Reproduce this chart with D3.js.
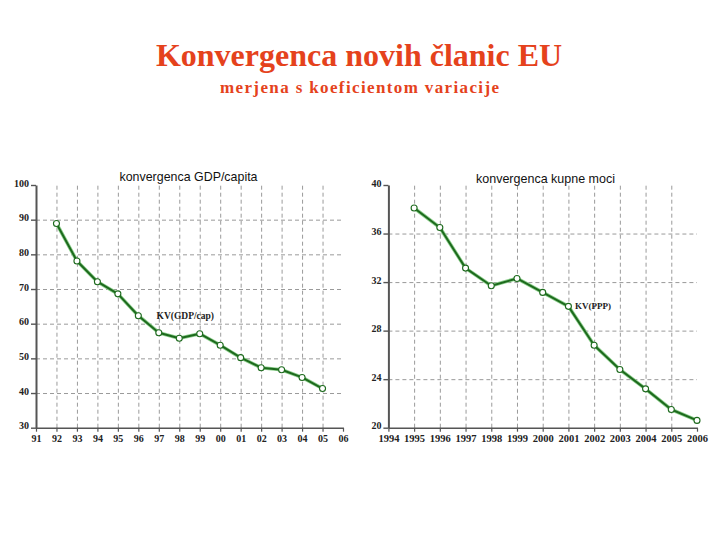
<!DOCTYPE html>
<html>
<head>
<meta charset="utf-8">
<script src="https://cdn.jsdelivr.net/npm/d3@7"></script>
<style>
  html, body { margin: 0; padding: 0; background: #ffffff; }
  svg { display: block; }
</style>
</head>
<body>
<svg id="chart" width="720" height="540"></svg>
<script>
// ---------- data ----------
const mainTitle = "Konvergenca novih članic EU";
const subTitle = "merjena s koeficientom variacije";

const gdpTitle = "konvergenca GDP/capita";
const gdpLabel = "KV(GDP/cap)";
const gdpYears = [1992, 1993, 1994, 1995, 1996, 1997, 1998, 1999, 2000, 2001, 2002, 2003, 2004, 2005];
const gdpValues = [88.9, 78.1, 72.1, 68.6, 62.3, 57.4, 55.8, 57.1, 53.8, 50.2, 47.3, 46.7, 44.5, 41.3];
const gdpXTicks = [1991, 1992, 1993, 1994, 1995, 1996, 1997, 1998, 1999, 2000, 2001, 2002, 2003, 2004, 2005, 2006];
const gdpYTicks = [30, 40, 50, 60, 70, 80, 90, 100];

const pppTitle = "konvergenca kupne moci";
const pppLabel = "KV(PPP)";
const pppYears = [1995, 1996, 1997, 1998, 1999, 2000, 2001, 2002, 2003, 2004, 2005, 2006];
const pppValues = [38.1, 36.5, 33.15, 31.7, 32.3, 31.15, 30.0, 26.8, 24.8, 23.2, 21.5, 20.6];
const pppXTicks = [1994, 1995, 1996, 1997, 1998, 1999, 2000, 2001, 2002, 2003, 2004, 2005, 2006];
const pppYTicks = [20, 24, 28, 32, 36, 40];

// ---------- drawing ----------
const svg = d3.select("#chart");
const red = "#e5421c";
const serif = "'Liberation Serif', 'Times New Roman', serif";
const sans = "'Liberation Sans', Arial, sans-serif";

svg.append("text")
  .attr("x", 359).attr("y", 66)
  .attr("text-anchor", "middle")
  .attr("font-family", serif).attr("font-weight", "bold")
  .attr("font-size", 32).attr("fill", red)
  .text(mainTitle);

svg.append("text")
  .attr("x", 359.5).attr("y", 93)
  .attr("text-anchor", "middle")
  .attr("font-family", serif).attr("font-weight", "bold")
  .attr("font-size", 17).attr("fill", red)
  .attr("textLength", 279).attr("lengthAdjust", "spacing")
  .text(subTitle);

function drawPanel(cfg) {
  const g = svg.append("g");
  const x = d3.scaleLinear().domain(cfg.xDomain).range([cfg.left, cfg.right]);
  const y = d3.scaleLinear().domain(cfg.yDomain).range([cfg.bottom, cfg.top]);

  // vertical grid (data years + none at axis / last)
  const vGridTicks = cfg.xTicks.slice(1, -1);
  g.append("g")
    .attr("transform", `translate(0,${cfg.bottom})`)
    .call(d3.axisBottom(x).tickValues(vGridTicks).tickSize(-(cfg.bottom - cfg.top)).tickFormat(""))
    .call(a => a.select(".domain").remove())
    .call(a => a.selectAll(".tick line")
      .attr("stroke", "#9a9a9a").attr("stroke-width", 1).attr("stroke-dasharray", "4,3"));

  // horizontal grid
  const hGridTicks = cfg.yTicks.slice(1, -1);
  g.append("g")
    .attr("transform", `translate(${cfg.left},0)`)
    .call(d3.axisLeft(y).tickValues(hGridTicks).tickSize(-(cfg.right - cfg.left)).tickFormat(""))
    .call(a => a.select(".domain").remove())
    .call(a => a.selectAll(".tick line")
      .attr("stroke", "#9a9a9a").attr("stroke-width", 1).attr("stroke-dasharray", "4,3"));

  // x axis
  const xAxis = g.append("g")
    .attr("transform", `translate(0,${cfg.bottom})`)
    .call(d3.axisBottom(x).tickValues(cfg.xTicks).tickSize(4).tickSizeOuter(0).tickPadding(3).tickFormat(cfg.xFormat));
  xAxis.select(".domain").attr("stroke", "#555").attr("stroke-width", 1.6);
  xAxis.selectAll(".tick line").attr("stroke", "#555").attr("stroke-width", 1.2);
  xAxis.selectAll(".tick text")
    .attr("font-family", serif).attr("font-weight", "bold")
    .attr("font-size", cfg.xFont).attr("fill", "#222");

  // y axis
  const yAxis = g.append("g")
    .attr("transform", `translate(${cfg.left},0)`)
    .call(d3.axisLeft(y).tickValues(cfg.yTicks).tickSize(5).tickSizeOuter(0).tickPadding(2).tickFormat(d3.format("d")));
  yAxis.select(".domain").attr("stroke", "#555").attr("stroke-width", 2);
  yAxis.selectAll(".tick line").attr("stroke", "#555").attr("stroke-width", 1.4);
  yAxis.selectAll(".tick text")
    .attr("font-family", serif).attr("font-weight", "bold")
    .attr("font-size", 10).attr("fill", "#222").attr("dy", "0.1em");

  // line
  const line = d3.line().x((d, i) => x(cfg.years[i])).y(d => y(d)).curve(d3.curveLinear);
  g.append("path").datum(cfg.values)
    .attr("d", line).attr("fill", "none")
    .attr("stroke", "#8fd08f").attr("stroke-width", 3.6).attr("stroke-linejoin", "round");
  g.append("path").datum(cfg.values)
    .attr("d", line).attr("fill", "none")
    .attr("stroke", "#1d6a1d").attr("stroke-width", 2).attr("stroke-linejoin", "round");

  g.selectAll("circle.pt").data(cfg.values).enter().append("circle")
    .attr("class", "pt")
    .attr("cx", (d, i) => x(cfg.years[i])).attr("cy", d => y(d))
    .attr("r", 3).attr("fill", "#ffffff")
    .attr("stroke", "#1d6a1d").attr("stroke-width", 1.1);

  // panel title
  svg.append("text")
    .attr("x", cfg.titleX).attr("y", cfg.titleY)
    .attr("font-family", sans).attr("font-size", 13.5).attr("fill", "#111")
    .attr("textLength", cfg.titleLen).attr("lengthAdjust", "spacingAndGlyphs")
    .text(cfg.title);

  // series label
  svg.append("text")
    .attr("x", cfg.labelX).attr("y", cfg.labelY)
    .attr("font-family", serif).attr("font-weight", "bold")
    .attr("font-size", cfg.labelFont).attr("fill", "#222")
    .text(cfg.label);
}

drawPanel({
  xDomain: [1991, 2006], yDomain: [30, 100],
  left: 36, right: 343, top: 185, bottom: 427.7,
  xTicks: gdpXTicks, yTicks: gdpYTicks,
  xFormat: d => String(d).slice(2), xFont: 10,
  years: gdpYears, values: gdpValues,
  title: gdpTitle, titleX: 119.5, titleY: 181, titleLen: 138,
  label: gdpLabel, labelX: 156.5, labelY: 319, labelFont: 9.5
});

drawPanel({
  xDomain: [1994, 2006], yDomain: [20, 40],
  left: 388.4, right: 697, top: 185, bottom: 427.7,
  xTicks: pppXTicks, yTicks: pppYTicks,
  xFormat: d3.format("d"), xFont: 10.5,
  years: pppYears, values: pppValues,
  title: pppTitle, titleX: 476, titleY: 182.5, titleLen: 139,
  label: pppLabel, labelX: 575, labelY: 309, labelFont: 9
});
</script>
</body>
</html>
